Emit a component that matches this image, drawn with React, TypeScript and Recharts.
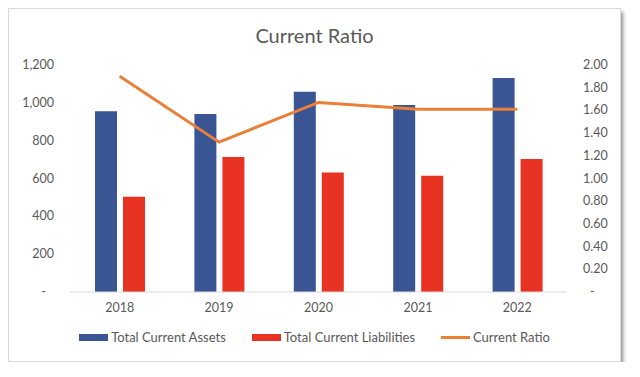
import React from 'react'
import {
  ComposedChart,
  Bar,
  Line,
  XAxis,
  YAxis,
  Legend,
} from 'recharts'

const years = ['2018', '2019', '2020', '2021', '2022']
const assets = [956, 941, 1058, 989, 1131]
const liabilities = [504, 713, 632, 614, 703]
const ratio = [1.9, 1.32, 1.67, 1.61, 1.61]
const leftTicks = [0, 200, 400, 600, 800, 1000, 1200]
const rightTicks = [0, 0.2, 0.4, 0.6, 0.8, 1.0, 1.2, 1.4, 1.6, 1.8, 2.0]

const BLUE = '#3A5594'
const RED = '#E83323'
const ORANGE = '#E97F38'
const TEXT = '#595959'
const FONT = 'Lato, "Open Sans", sans-serif'

const data = years.map((year, i) => ({
  year,
  assets: assets[i],
  liabilities: liabilities[i],
  ratio: ratio[i],
}))

const LeftTick = (props: any) => {
  const { x, y, payload } = props
  const v = payload.value
  const label = v === 0 ? '-' : v.toLocaleString('en-US')
  return (
    <text
      x={v === 0 ? x - 16 : x - 8}
      y={y}
      dy={4}
      textAnchor="end"
      fill={TEXT}
      fontSize={12.5}
      fontFamily={FONT}
    >
      {label}
    </text>
  )
}

const RightTick = (props: any) => {
  const { x, y, payload } = props
  const v = payload.value
  const label = v === 0 ? '-' : v.toFixed(2)
  return (
    <text
      x={v === 0 ? x + 15 : x + 8}
      y={y}
      dy={4}
      textAnchor="start"
      fill={TEXT}
      fontSize={12.5}
      fontFamily={FONT}
    >
      {label}
    </text>
  )
}

const legendItems = [
  { name: 'Total Current Assets', color: BLUE, type: 'bar' },
  { name: 'Total Current Liabilities', color: RED, type: 'bar' },
  { name: 'Current Ratio', color: ORANGE, type: 'line' },
]

const renderLegend = () => (
  <div
    style={{
      display: 'flex',
      justifyContent: 'center',
      gap: 26,
      fontFamily: FONT,
      fontSize: 13,
      color: TEXT,
    }}
  >
    {legendItems.map((item) => (
      <div key={item.name} style={{ display: 'flex', alignItems: 'center' }}>
        <span
          style={{
            display: 'inline-block',
            width: 29,
            height: item.type === 'bar' ? 7 : 3,
            background: item.color,
            marginRight: 3,
          }}
        />
        {item.name}
      </div>
    ))}
  </div>
)

export default function App() {
  return (
    <div
      style={{
        position: 'relative',
        width: 611,
        height: 352,
        border: '1px solid #d9d9d9',
        boxShadow: '2px 4px 4px rgba(0,0,0,0.45)',
        background: '#fff',
      }}
    >
      <div
        style={{
          position: 'absolute',
          top: 14,
          left: 0,
          width: 611,
          textAlign: 'center',
          fontFamily: FONT,
          fontSize: 20,
          color: TEXT,
        }}
      >
        Current Ratio
      </div>
      <ComposedChart
        width={611}
        height={352}
        data={data}
        margin={{ top: 56, right: 0, left: 0, bottom: 28 }}
        barGap={6}
        barCategoryGap={25}
      >
        <XAxis
          dataKey="year"
          axisLine={{ stroke: '#d9d9d9' }}
          tickLine={false}
          tick={{ fill: TEXT, fontSize: 12.5, fontFamily: FONT }}
          tickMargin={5}
          height={25}
        />
        <YAxis
          yAxisId="left"
          width={61}
          domain={[0, 1200]}
          ticks={leftTicks}
          axisLine={false}
          tickLine={false}
          tick={<LeftTick />}
          interval={0}
        />
        <YAxis
          yAxisId="right"
          orientation="right"
          width={53}
          domain={[0, 2]}
          ticks={rightTicks}
          axisLine={false}
          tickLine={false}
          tick={<RightTick />}
          interval={0}
        />
        <Legend
          content={renderLegend}
          wrapperStyle={{ position: 'absolute', top: 320, left: 0, width: 611 }}
        />
        <Bar
          yAxisId="left"
          dataKey="assets"
          name="Total Current Assets"
          fill={BLUE}
          barSize={22}
          isAnimationActive={false}
        />
        <Bar
          yAxisId="left"
          dataKey="liabilities"
          name="Total Current Liabilities"
          fill={RED}
          barSize={22}
          isAnimationActive={false}
        />
        <Line
          yAxisId="right"
          dataKey="ratio"
          name="Current Ratio"
          stroke={ORANGE}
          strokeWidth={3}
          dot={false}
          type="linear"
          isAnimationActive={false}
        />
      </ComposedChart>
    </div>
  )
}
